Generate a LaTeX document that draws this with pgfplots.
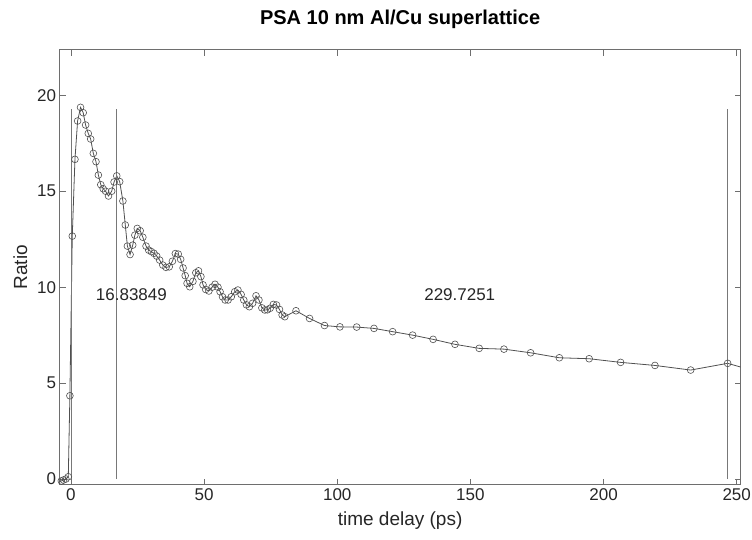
\documentclass[border=0pt]{standalone}
\usepackage{fontspec}
\setmainfont{Liberation Sans}
\usepackage{pgfplots}
\pgfplotsset{compat=1.18}
\definecolor{axgray}{RGB}{110,110,110}
\definecolor{datagray}{RGB}{80,80,80}
\definecolor{vgray}{RGB}{120,120,120}
\begin{document}
\begin{tikzpicture}[x=1pt,y=1pt]
\useasboundingbox (-59.5,-55.2) rectangle (692.5,484.8);
\begin{axis}[
  at={(0,0)}, anchor=south west,
  scale only axis, width=681.2pt, height=435.2pt,
  xmin=-4.3, xmax=251.5, ymin=-0.3, ymax=22.38,
  xtick={0,50,...,250}, ytick={0,5,...,20},
  tick align=inside, major tick length=6pt,
  axis line style={axgray, line width=0.8pt},
  every tick/.style={axgray, line width=0.8pt},
  ticklabel style={font=\fontsize{17}{17}\selectfont, text=black!85},
  /pgf/number format/assume math mode=true,
  title={\bfseries PSA 10 nm Al/Cu superlattice},
  title style={font=\fontsize{20}{20}\selectfont, yshift=11pt},
  xlabel={time delay (ps)}, ylabel={Ratio},
  label style={font=\fontsize{19}{19}\selectfont, text=black!85},
  xlabel style={yshift=-4pt},
  ylabel style={yshift=3pt},
  clip=true,
]
\addplot[datagray, line width=0.8pt, mark=o, mark size=3.4pt, mark options={line width=0.6pt}] coordinates {
(-4.5,-0.15) (-3.6,-0.1) (-2.8,-0.05) (-1.9,0.0) (-1.0,0.12) (-0.4,4.34)
(0.5,12.66) (1.5,16.66) (2.5,18.66) (3.6,19.37) (4.6,19.09) (5.5,18.45)
(6.5,18.01) (7.4,17.72) (8.4,16.97) (9.4,16.54) (10.3,15.84) (11.2,15.34)
(12.1,15.13) (13.0,15.0) (14.1,14.75) (15.3,15.0) (16.2,15.48) (17.2,15.8)
(18.3,15.5) (19.5,14.49) (20.4,13.24) (21.2,12.14) (22.2,11.7) (23.2,12.19)
(24.0,12.71) (24.9,13.06) (26.0,12.94) (27.0,12.6) (28.2,12.14) (29.2,11.93)
(30.2,11.85) (31.2,11.76) (32.2,11.62) (33.3,11.41) (34.5,11.15) (35.7,11.03)
(36.9,11.06) (38.1,11.35) (39.2,11.75) (40.3,11.72) (41.2,11.45) (42.1,11.0)
(42.9,10.6) (43.6,10.2) (44.6,10.02) (45.8,10.3) (46.9,10.75) (47.9,10.85)
(48.8,10.55) (49.6,10.12) (50.6,9.88) (51.8,9.8) (53.0,10.0) (54.1,10.15)
(55.2,10.0) (56.0,9.76) (56.9,9.5) (57.9,9.33) (59.0,9.33) (60.2,9.5)
(61.5,9.76) (62.7,9.85) (63.9,9.62) (64.9,9.33) (65.9,9.08) (67.0,8.98)
(68.2,9.16) (69.5,9.55) (70.6,9.33) (71.7,8.92) (72.8,8.81) (73.8,8.82)
(74.8,8.9) (76.0,9.1) (77.2,9.07) (78.3,8.84) (79.3,8.55) (80.3,8.46)
(84.5,8.77) (89.6,8.37) (95.2,8.0) (101.0,7.93) (107.3,7.92) (113.8,7.85)
(120.8,7.68) (128.3,7.5) (136.0,7.28) (144.2,7.02) (153.3,6.81) (162.6,6.77)
(172.6,6.58) (183.4,6.32) (194.6,6.27) (206.4,6.08) (219.3,5.92) (232.7,5.68)
(246.6,6.03) (260.0,5.5)
};
\addplot[vgray, line width=0.8pt, no marks] coordinates {(0.3,0) (0.3,19.3)};
\addplot[vgray, line width=0.8pt, no marks] coordinates {(17.1,0) (17.1,19.3)};
\addplot[vgray, line width=0.8pt, no marks] coordinates {(246.6,0) (246.6,19.3)};
\node[font=\fontsize{17}{17}\selectfont, text=black!85] at (axis cs:22.7,9.6) {16.83849};
\node[font=\fontsize{17}{17}\selectfont, text=black!85] at (axis cs:146,9.6) {229.7251};
\end{axis}
\end{tikzpicture}
\end{document}
